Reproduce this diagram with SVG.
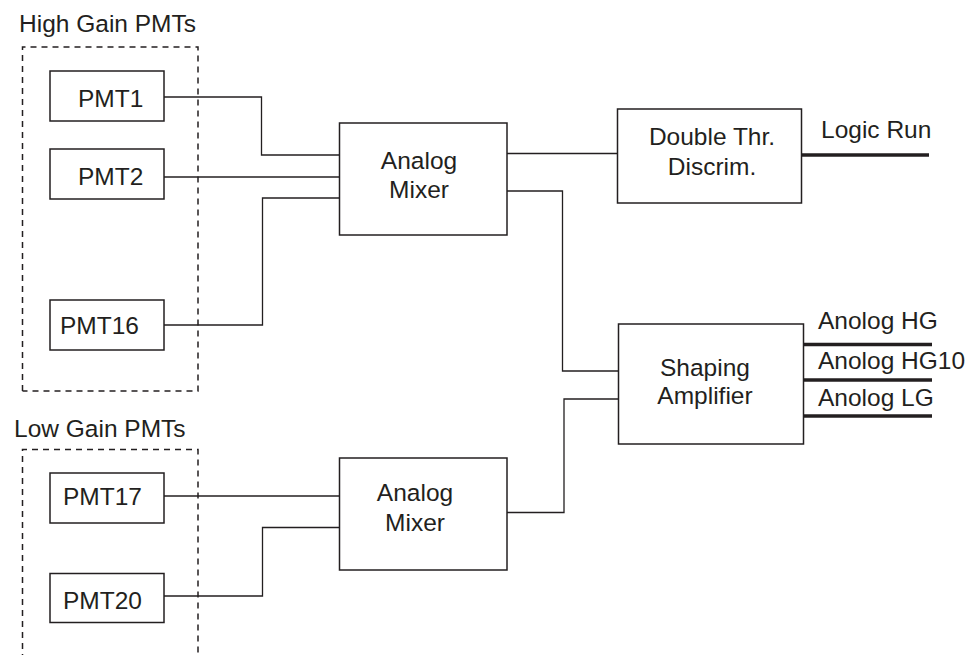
<svg xmlns="http://www.w3.org/2000/svg" width="970" height="655" viewBox="0 0 970 655">
<style>
text{font-family:"Liberation Sans",Arial,sans-serif;font-size:24.5px;fill:#231f20}
.box{fill:#fff;stroke:#231f20;stroke-width:1.5}
.dash{fill:none;stroke:#231f20;stroke-width:1.5;stroke-dasharray:6,5}
.wire{fill:none;stroke:#231f20;stroke-width:1.3}
.out{fill:none;stroke:#231f20;stroke-width:3.5}
.c{text-anchor:middle}
</style>
<rect width="970" height="655" fill="#fff"/>
<g id="high-gain-group">
<text x="19" y="32">High Gain PMTs</text>
<path class="dash" d="M22.5,391 V47 H198 V391 H22.5"/>
</g>
<g id="low-gain-group">
<text x="14" y="437">Low Gain PMTs</text>
<path class="dash" d="M22.5,660 V449.5 H198 V660"/>
</g>
<g id="connectors">
<path class="wire" d="M164,97 H261.5 V155 H339"/>
<path class="wire" d="M164,177 H339"/>
<path class="wire" d="M164,325 H262.5 V198 H339"/>
<path class="wire" d="M164,496 H339"/>
<path class="wire" d="M164,596 H262.5 V527.5 H339"/>
<path class="wire" d="M507,153.5 H617"/>
<path class="wire" d="M507,191 H562.5 V371 H618"/>
<path class="wire" d="M507,512.5 H564 V399 H618"/>
<path class="out" d="M801,155 H929"/>
<path class="out" d="M803,344.5 H932"/>
<path class="out" d="M803,380 H932"/>
<path class="out" d="M803,416 H932"/>
</g>
<g id="pmt1"><rect class="box" x="50" y="71" width="114" height="50"/><text x="78" y="107">PMT1</text></g>
<g id="pmt2"><rect class="box" x="50" y="149" width="114" height="50"/><text x="78" y="185">PMT2</text></g>
<g id="pmt16"><rect class="box" x="50" y="300" width="114" height="50"/><text x="60" y="334">PMT16</text></g>
<g id="pmt17"><rect class="box" x="50" y="473" width="114" height="50"/><text x="63" y="505">PMT17</text></g>
<g id="pmt20"><rect class="box" x="50" y="573.5" width="114" height="49"/><text x="63" y="609">PMT20</text></g>
<g id="mixer1"><rect class="box" x="339.5" y="123" width="167.5" height="112"/><text class="c" x="419" y="169">Analog</text><text class="c" x="419" y="198">Mixer</text></g>
<g id="mixer2"><rect class="box" x="339.5" y="458" width="167.5" height="112"/><text class="c" x="415" y="501">Analog</text><text class="c" x="415" y="531">Mixer</text></g>
<g id="discrim"><rect class="box" x="617.5" y="109" width="184" height="94"/><text class="c" x="712" y="145">Double Thr.</text><text class="c" x="712" y="175">Discrim.</text></g>
<g id="shaping"><rect class="box" x="618.5" y="324" width="185" height="120"/><text class="c" x="705" y="376">Shaping</text><text class="c" x="705" y="404">Amplifier</text></g>
<g id="output-labels">
<text x="821" y="138">Logic Run</text>
<text x="818" y="329">Anolog HG</text>
<text x="818" y="369">Anolog HG10</text>
<text x="818" y="406">Anolog LG</text>
</g>
</svg>
